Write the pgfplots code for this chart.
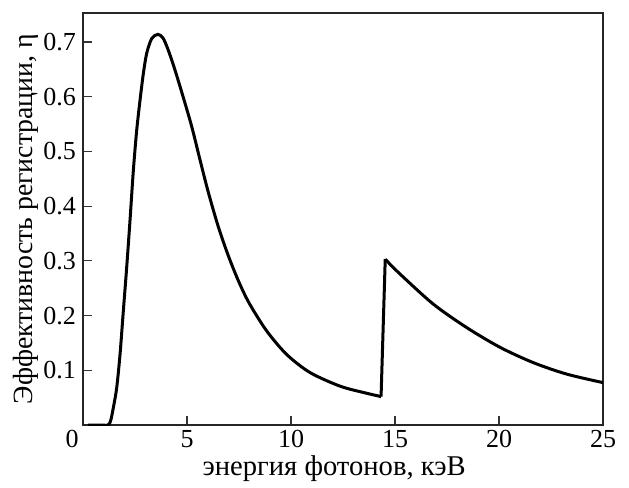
\documentclass[border=0pt]{standalone}
\usepackage{fontspec}
\setmainfont{Liberation Serif}
\usepackage{pgfplots}
\pgfplotsset{compat=1.18}
\begin{document}
\begin{tikzpicture}
\begin{axis}[
  name=ax,
  scale only axis,
  width=260pt, height=206pt,
  xmin=0, xmax=25, ymin=0, ymax=0.753,
  xtick={0,5,10,15,20,25},
  xticklabels={{0\rule{11pt}{0pt}},5,10,15,20,25},
  xticklabel style={yshift=1pt},
  ytick={0.1,0.2,0.3,0.4,0.5,0.6,0.7},
  yticklabel style={/pgf/number format/fixed,/pgf/number format/precision=1},
  /pgf/number format/assume math mode=true,
  xtick pos=bottom, ytick pos=left,
  tick align=inside,
  major tick length=4.5pt,
  axis line style={line width=0.7pt, black!85},
  tick style={line width=0.6pt, black!80},
  every tick label/.append style={font=\fontsize{13}{15}\selectfont},
  xlabel={энергия фотонов, кэВ},
  xlabel style={font=\fontsize{14.3}{16}\selectfont, at={(axis description cs:0.483,0)}, anchor=base, yshift=-25pt},
  ylabel={Эффективность регистрации, η},
  ylabel style={font=\fontsize{13.9}{16}\selectfont, at={(axis description cs:0,0.5)}, anchor=center, inner sep=0pt, yshift=28.5pt},
]
\addplot[black, line width=1.5pt, smooth, tension=0.5] coordinates {
(0.25,0) (0.8,0) (1.2,0) (1.33,0.008) (1.46,0.032) (1.62,0.068) (1.78,0.129)
(1.94,0.209) (2.10,0.288) (2.26,0.374) (2.42,0.465) (2.58,0.538) (2.74,0.593)
(2.90,0.642) (3.06,0.679) (3.30,0.706) (3.60,0.714) (3.85,0.707) (4.10,0.685)
(4.42,0.649) (4.82,0.599) (5.23,0.545) (5.63,0.484) (6.02,0.426) (6.5,0.363)
(7.0,0.308) (7.5,0.261) (8.0,0.222) (8.83,0.172) (9.79,0.129) (10.91,0.096)
(12.36,0.071) (13.64,0.058) (14.33,0.052)
};
\addplot[black, line width=1.5pt] coordinates {
(14.33,0.052) (14.53,0.303)
};
\addplot[black, line width=1.5pt, smooth, tension=0.5] coordinates {
(14.53,0.303) (15.24,0.276) (16.84,0.221) (18.45,0.178) (20.05,0.142)
(21.65,0.114) (23.26,0.093) (25,0.0775)
};
\end{axis}
\path ([shift={(-41.5pt,-27.5pt)}]ax.south west) rectangle ([shift={(13pt,6.5pt)}]ax.north east);
\end{tikzpicture}
\end{document}
